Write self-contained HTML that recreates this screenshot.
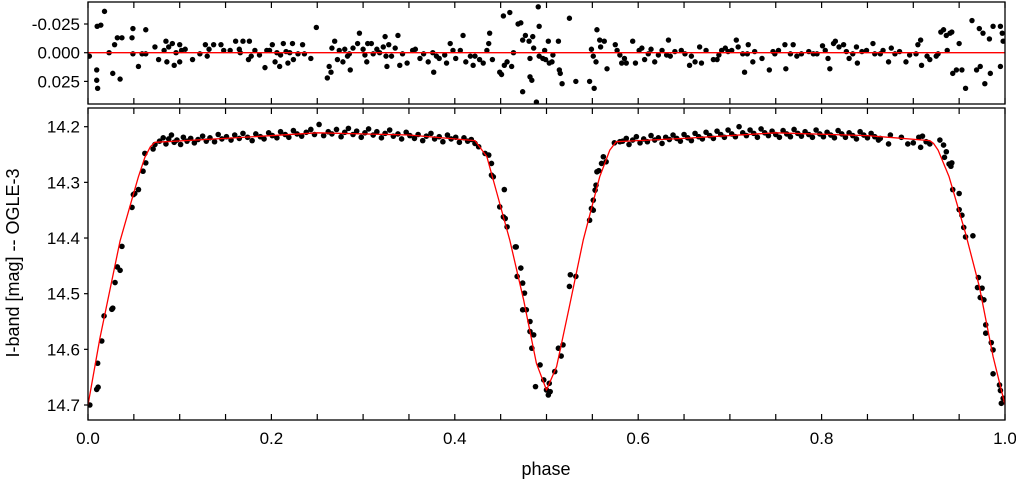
<!DOCTYPE html>
<html><head><meta charset="utf-8">
<style>
html,body{margin:0;padding:0;background:#fff;}
svg{display:block;font-family:"Liberation Sans",sans-serif;}
</style></head>
<body>
<svg id="chart" width="1016" height="486" viewBox="0 0 1016 486" xmlns="http://www.w3.org/2000/svg">
<rect x="0" y="0" width="1016" height="486" fill="#fff"/>
<g id="resid-panel"></g>
<g id="main-panel"></g>
<text x="546" y="475" font-size="18" text-anchor="middle" fill="#000">phase</text>
<text transform="translate(19,263) rotate(-90)" font-size="18" text-anchor="middle" fill="#000">I-band [mag] -- OGLE-3</text>
</svg>
<script>
// ---- data ----
const modelPhase=[0,0.013,0.035,0.048,0.055,0.062,0.068,0.073,0.15,0.25,0.35,0.422,0.435,0.446,0.460,0.475,0.489,0.500,0.511,0.525,0.540,0.558,0.569,0.576,0.65,0.75,0.85,0.918,0.922,0.927,0.939,0.957,0.972,0.987,1.0];
const modelMag=[14.70,14.58,14.405,14.33,14.29,14.255,14.236,14.228,14.221,14.211,14.215,14.225,14.254,14.32,14.404,14.511,14.625,14.673,14.631,14.523,14.404,14.29,14.242,14.227,14.221,14.211,14.216,14.225,14.23,14.242,14.29,14.392,14.487,14.613,14.70];

const obsPhase=[0.002,0.0095,0.011,0.0105,0.015,0.0175,0.026,0.027,0.0295,0.032,0.035,0.037,0.048,0.0495,0.051,0.055,0.06,0.063,0.062,0.071,0.073,
0.078,0.082,0.085,0.088,0.091,0.094,0.097,0.101,0.104,0.108,0.112,0.116,0.120,0.125,0.129,0.133,0.138,0.142,0.146,0.151,0.156,0.160,0.165,0.169,0.174,0.179,0.183,0.188,0.192,0.197,0.201,0.206,0.210,0.215,0.219,0.224,0.228,0.233,0.238,0.243,0.247,0.252,0.257,0.262,0.266,0.271,0.276,0.280,0.284,0.289,0.293,0.298,0.302,0.306,0.311,0.315,0.320,0.324,0.329,0.333,0.338,0.342,0.347,0.351,0.356,0.360,0.365,0.369,0.374,0.378,0.383,0.387,0.392,0.396,0.401,0.405,0.410,0.414,0.418,0.422,0.426,
0.433,0.437,0.440,0.440,0.442,0.454,0.449,0.453,0.455,0.457,0.466,0.467,0.472,0.468,0.474,0.476,0.478,0.474,0.482,0.482,0.486,0.484,0.493,0.488,0.497,0.500,0.502,0.504,0.503,0.509,0.513,0.516,0.518,0.525,0.526,0.532,0.547,0.549,0.551,0.551,0.553,0.554,0.555,0.557,0.560,0.565,0.562,0.574,0.580,
0.583,0.587,0.590,0.594,0.598,0.602,0.606,0.610,0.614,0.618,0.622,0.626,0.630,0.634,0.638,0.642,0.646,0.650,0.654,0.658,0.662,0.666,0.670,0.674,0.678,0.682,0.686,0.690,0.694,0.698,0.702,0.706,0.710,0.714,0.718,0.722,0.726,0.730,0.734,0.738,0.742,0.746,0.750,0.754,0.758,0.762,0.766,0.770,0.774,0.778,0.782,0.786,0.790,0.794,0.798,0.802,0.806,0.810,0.814,0.818,0.822,0.826,0.830,0.834,0.838,0.842,0.846,0.850,0.854,0.858,0.862,
0.864,0.873,0.875,0.887,0.894,0.900,0.906,0.908,0.910,0.914,0.918,
0.929,0.933,0.936,0.934,0.939,0.942,0.941,0.943,0.950,0.950,0.953,0.955,0.957,0.965,0.971,0.970,0.975,0.973,0.977,0.979,0.979,0.985,0.987,0.987,0.994,0.995,0.996,0.998];
const obsMag=[14.700,14.672,14.668,14.625,14.585,14.540,14.528,14.526,14.480,14.452,14.458,14.415,14.345,14.322,14.320,14.313,14.280,14.265,14.248,14.240,14.232,
14.226,14.220,14.231,14.222,14.215,14.228,14.224,14.232,14.219,14.226,14.221,14.229,14.223,14.217,14.226,14.220,14.227,14.214,14.222,14.218,14.224,14.215,14.221,14.212,14.219,14.225,14.213,14.218,14.222,14.211,14.216,14.220,14.209,14.214,14.219,14.207,14.213,14.217,14.210,14.205,14.214,14.196,14.216,14.209,14.213,14.205,14.218,14.210,14.203,14.214,14.208,14.219,14.211,14.204,14.215,14.209,14.220,14.212,14.206,14.217,14.213,14.222,14.210,14.216,14.221,14.214,14.225,14.217,14.212,14.222,14.218,14.227,14.215,14.222,14.219,14.228,14.220,14.226,14.223,14.230,14.236,
14.248,14.251,14.266,14.287,14.290,14.313,14.344,14.362,14.365,14.380,14.416,14.416,14.454,14.469,14.481,14.499,14.529,14.529,14.550,14.568,14.574,14.598,14.628,14.667,14.655,14.673,14.682,14.676,14.661,14.640,14.598,14.612,14.592,14.487,14.466,14.469,14.368,14.347,14.350,14.332,14.314,14.305,14.281,14.279,14.266,14.263,14.254,14.229,14.227,
14.226,14.221,14.232,14.224,14.218,14.229,14.222,14.227,14.216,14.224,14.220,14.230,14.219,14.223,14.215,14.221,14.226,14.214,14.220,14.225,14.212,14.218,14.222,14.210,14.216,14.221,14.208,14.214,14.219,14.206,14.213,14.218,14.200,14.211,14.216,14.206,14.212,14.219,14.204,14.211,14.216,14.208,14.214,14.219,14.207,14.213,14.218,14.205,14.212,14.217,14.209,14.214,14.219,14.206,14.213,14.218,14.210,14.215,14.220,14.207,14.213,14.219,14.211,14.216,14.222,14.209,14.215,14.220,14.212,14.218,14.224,
14.221,14.231,14.215,14.219,14.231,14.229,14.219,14.237,14.217,14.227,14.231,
14.224,14.233,14.245,14.255,14.267,14.265,14.271,14.313,14.320,14.349,14.359,14.381,14.398,14.396,14.471,14.489,14.490,14.507,14.511,14.556,14.571,14.588,14.601,14.644,14.664,14.674,14.697,14.688];

const resPhase=[0.0015,0.0095,0.0095,0.0105,0.010,0.014,0.018,0.023,0.027,0.029,0.032,0.035,0.037,0.048,0.049,0.049,0.055,0.059,0.063,0.063,0.073,0.077,0.083,0.085,0.086,0.088,0.092,0.094,0.096,0.100,0.100,0.102,0.106,0.114,0.122,0.128,0.130,0.132,0.137,0.145,0.148,0.155,0.161,0.165,0.166,0.169,0.175,0.176,0.178,0.182,0.187,0.193,0.195,0.198,0.201,0.204,0.206,0.209,0.210,0.213,0.216,0.218,0.220,0.223,0.224,0.229,0.234,0.236,0.243,0.249,0.261,0.263,0.265,0.266,0.269,0.272,0.274,0.278,0.280,0.283,0.285,0.286,0.289,0.294,0.296,0.300,0.302,0.304,0.305,0.309,0.311,0.315,0.318,0.322,0.324,0.325,0.326,0.328,0.331,0.335,0.338,0.340,0.343,0.348,0.354,0.357,0.362,0.366,0.371,0.376,0.377,0.380,0.383,0.389,0.391,0.395,0.398,0.401,0.406,0.409,0.412,0.417,0.420,0.422,0.427,0.431,0.435,0.437,0.438,0.441,0.449,0.451,0.453,0.454,0.457,0.460,0.462,0.464,0.469,
0.472,0.474,0.474,0.477,0.481,0.482,0.482,0.484,0.485,0.486,0.489,0.491,0.492,0.492,0.496,0.498,0.499,0.502,0.503,0.506,0.507,0.513,0.514,0.515,0.517,0.525,0.532,0.547,0.549,0.551,0.552,0.554,0.555,0.558,0.559,0.563,0.566,0.575,0.577,0.580,0.582,0.585,0.587,0.594,0.597,0.601,0.604,0.607,0.611,0.614,0.618,0.622,0.626,0.631,0.633,0.635,0.640,0.647,0.651,0.656,0.658,0.662,0.667,0.669,0.674,0.682,0.686,0.688,0.691,0.695,0.698,0.702,0.707,0.709,0.714,0.716,0.719,0.720,0.725,0.727,0.735,0.743,0.747,0.749,0.753,0.760,0.761,0.766,0.769,0.773,0.778,0.786,0.791,0.795,0.801,0.804,0.807,0.809,0.813,0.815,0.819,0.824,0.827,0.830,0.834,0.838,0.839,0.844,0.849,0.856,0.858,0.864,0.867,0.873,0.876,0.880,0.885,0.892,0.896,0.903,0.905,0.908,0.909,0.915,0.918,0.925,0.927,0.930,0.933,0.936,0.937,0.940,0.942,0.943,0.947,0.950,0.953,0.957,0.964,0.969,0.972,0.973,0.976,0.978,0.983,0.984,0.987,0.995,0.995,0.997,0.998];
const resVal=[0.003,0.015,0.024,0.031,-0.023,-0.024,-0.036,0,0.018,-0.007,-0.013,0.023,-0.013,-0.013,-0.021,0.001,0.012,0.001,-0.020,0.001,-0.005,0.006,-0.002,-0.010,0.008,-0.005,-0.008,0.011,0,-0.007,0.008,-0.002,-0.003,0.006,0.001,-0.007,0.003,-0.003,-0.007,-0.007,-0.002,-0.002,-0.010,-0.003,0,-0.010,0.006,-0.010,0.003,-0.002,0.002,0.013,-0.002,-0.002,-0.007,0.008,0,0.012,0.002,-0.008,-0.001,0.009,0,-0.008,0.006,0.001,-0.007,0.001,0.005,-0.022,0.022,0.012,0.017,-0.004,-0.010,0.006,-0.002,0.008,-0.003,0.003,0.001,0.015,-0.004,-0.008,-0.017,-0.003,0.002,0.008,-0.008,-0.008,0.001,-0.003,0,-0.005,-0.014,0.003,0.012,-0.007,0.003,-0.004,-0.015,0.011,0.001,0.009,-0.002,-0.003,0.005,0.001,0.008,0,0.017,0.003,0.005,0.002,0.009,-0.008,-0.002,0.005,-0.002,-0.015,0.008,0.003,0.011,0.003,0.006,0.009,-0.002,-0.008,-0.017,0.006,0.017,0.019,-0.032,0.011,0.008,-0.035,0.012,0,-0.025,
-0.026,0.034,-0.011,-0.015,-0.010,0.005,0.021,0.024,-0.014,-0.004,0.043,-0.040,-0.023,0.003,0.005,-0.002,0.006,-0.010,0.009,0.008,0.002,-0.010,0.015,0.018,0.027,-0.030,0.025,0.025,-0.003,0.003,0.031,0.008,-0.020,-0.011,-0.005,-0.010,0.014,-0.007,-0.002,0.002,0.009,0.005,0.009,-0.010,0.009,-0.002,-0.004,0.006,0.001,-0.003,0.008,0.002,-0.002,0.002,-0.011,0.003,-0.001,-0.002,0.001,0.011,0.003,0.008,-0.005,0.009,-0.002,0.006,0.006,0.002,-0.002,-0.004,-0.001,-0.002,-0.011,-0.005,0.001,0.017,0.001,-0.007,0.008,-0.001,0.005,0.015,-0.001,0.001,-0.002,-0.007,0.014,0.001,-0.007,0.003,0.001,-0.001,0.001,0.001,-0.006,-0.002,0.005,0.014,-0.008,-0.010,-0.005,-0.007,-0.001,0.005,0.001,-0.005,0.009,-0.001,-0.002,-0.008,0.001,0.001,-0.002,0.008,-0.004,0.001,-0.001,0.008,0.002,0.001,-0.007,-0.011,0.011,0.003,0.006,0.003,0.001,-0.018,-0.020,-0.015,-0.002,-0.017,-0.018,0.018,0.015,-0.008,0.015,0.031,-0.028,0.015,-0.021,0.012,-0.017,0.027,-0.012,0.018,-0.023,-0.023,0.012,-0.017,-0.010];

const xTickVals=[0,0.2,0.4,0.6,0.8,1.0];
const xTickLabels=["0.0","0.2","0.4","0.6","0.8","1.0"];
const magTickVals=[14.2,14.3,14.4,14.5,14.6,14.7];
const magTickLabels=["14.2","14.3","14.4","14.5","14.6","14.7"];
const resTickVals=[-0.025,0,0.025];
const resTickLabels=["-0.025","0.000","0.025"];

// ---- geometry ----
const NS="http://www.w3.org/2000/svg";
const L=88,R=1005;
const T1=2,B1=104,T2=108,B2=420;
const xS=p=>L+(R-L)*p;
const yMag=m=>126.7+(m-14.2)*556.6;
const yRes=r=>52.7+r/0.025*28.7;

function mk(tag,attrs,parent){const e=document.createElementNS(NS,tag);for(const k in attrs)e.setAttribute(k,attrs[k]);parent.appendChild(e);return e;}

const gRes=document.getElementById('resid-panel');
const gMain=document.getElementById('main-panel');

const defs=mk('defs',{},document.getElementById('chart'));
const c1=mk('clipPath',{id:'clip1'},defs);mk('rect',{x:L,y:T1,width:R-L,height:B1-T1},c1);
const c2=mk('clipPath',{id:'clip2'},defs);mk('rect',{x:L,y:T2,width:R-L,height:B2-T2},c2);

function axesFrame(g,top,bot,yTicks,yLabels,yFn,showXLabels){
  for(let i=0;i<=20;i++){
    const x=xS(i*0.05);
    const t1=mk('line',{x1:x,x2:x,y1:bot,y2:bot-6,stroke:'#000','stroke-width':1.2},g);
    
    
    const t2=mk('line',{x1:x,x2:x,y1:top,y2:top+6,stroke:'#000','stroke-width':1.2},g);
    
    
  }
  if(showXLabels){
    xTickVals.forEach((v,i)=>{
      const t=mk('text',{x:xS(v),y:bot+24,'font-size':17,'text-anchor':'middle',fill:'#000'},g);
      t.textContent=xTickLabels[i];
      
      
    });
  }
  yTicks.forEach((v,i)=>{
    const y=yFn(v);
    const tk=mk('line',{x1:L-4,x2:L,y1:y,y2:y,stroke:'#000','stroke-width':1.2},g);
    
    
    const t=mk('text',{x:L-8,y:y+6,'font-size':17,'text-anchor':'end',fill:'#000'},g);
    t.textContent=yLabels[i];
    
    
  });
  const fr=mk('rect',{x:L,y:top,width:R-L,height:bot-top,fill:'none',stroke:'#000','stroke-width':1.3},g);
  
  
}

const rp=mk('g',{'clip-path':'url(#clip1)'},gRes);
resPhase.forEach((p,i)=>{
  const c=mk('circle',{cx:xS(p),cy:yRes(resVal[i]),r:2.7,fill:'#000'},rp);
  
  
});
const zl=mk('line',{x1:L,x2:R,y1:yRes(0),y2:yRes(0),stroke:'#ff0000','stroke-width':1.3},rp);


axesFrame(gRes,T1,B1,resTickVals,resTickLabels,yRes,false);

const mp=mk('g',{'clip-path':'url(#clip2)'},gMain);
obsPhase.forEach((p,i)=>{
  const c=mk('circle',{cx:xS(p),cy:yMag(obsMag[i]),r:2.8,fill:'#000'},mp);
  
  
});
const d=modelPhase.map((p,i)=>(i?'L':'M')+xS(p).toFixed(1)+','+yMag(modelMag[i]).toFixed(1)).join(' ');
const ml=mk('path',{d:d,fill:'none',stroke:'#ff0000','stroke-width':1.3,'stroke-linejoin':'round'},mp);


axesFrame(gMain,T2,B2,magTickVals,magTickLabels,yMag,true);
</script>
</body></html>
